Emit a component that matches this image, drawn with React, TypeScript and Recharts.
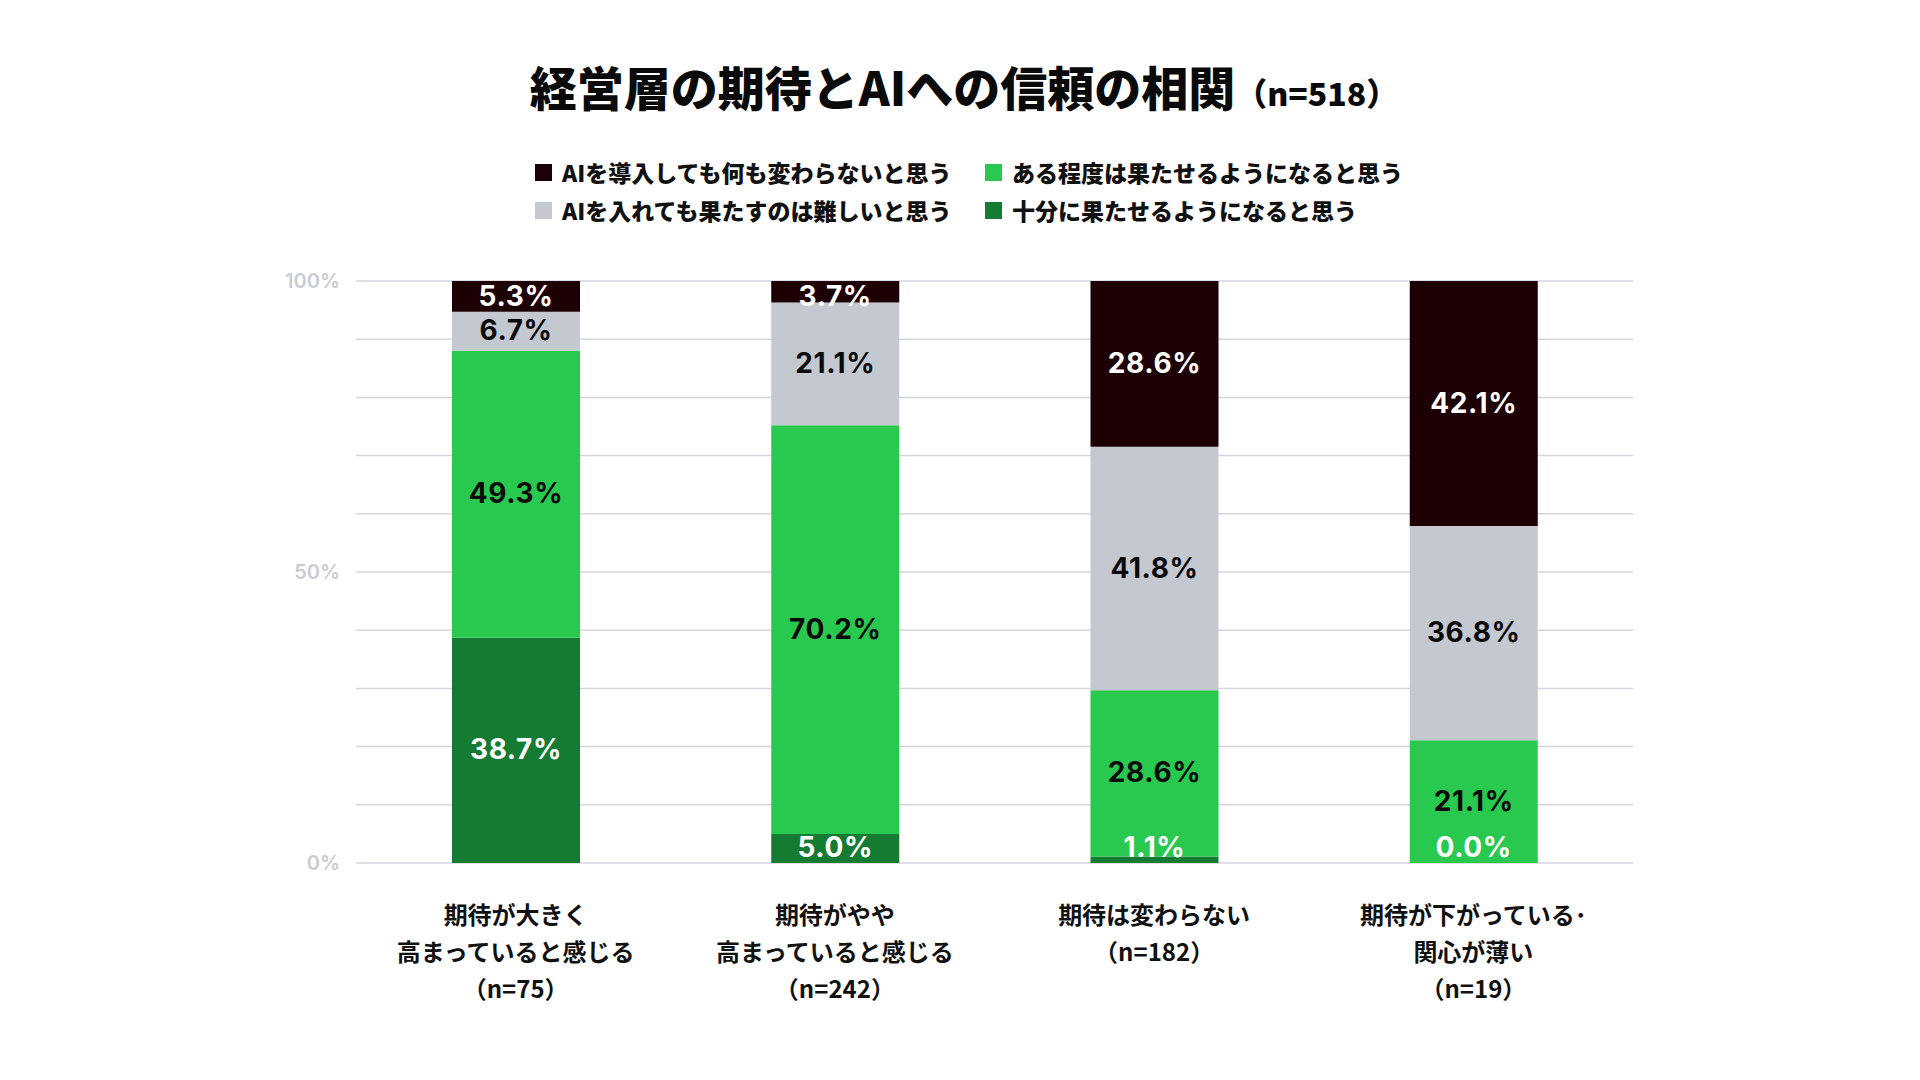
import React from 'react';
import { BarChart, Bar, XAxis, YAxis, CartesianGrid, Legend, LabelList } from 'recharts';

// ---- data ----
const CATEGORIES = [
  '期待が大きく\n高まっていると感じる\n（n=75）',
  '期待がやや\n高まっていると感じる\n（n=242）',
  '期待は変わらない\n（n=182）',
  '期待が下がっている･\n関心が薄い\n（n=19）',
];
// AIを導入しても何も変わらないと思う
const SERIES_NOTHING = [5.3, 3.7, 28.6, 42.1];
// AIを入れても果たすのは難しいと思う
const SERIES_HARD = [6.7, 21.1, 41.8, 36.8];
// ある程度は果たせるようになると思う
const SERIES_SOME = [49.3, 70.2, 28.6, 21.1];
// 十分に果たせるようになると思う
const SERIES_FULL = [38.7, 5.0, 1.1, 0.0];

const Y_TICKS = [0, 10, 20, 30, 40, 50, 60, 70, 80, 90, 100];
const Y_TICK_LABELS: Record<number, string> = { 0: '0%', 50: '50%', 100: '100%' };

const TITLE_MAIN = '経営層の期待とAIへの信頼の相関';
const TITLE_SUB = '（n=518）';

// ---- series config (stack order bottom -> top) ----
const SERIES = [
  { key: 'full', name: '十分に果たせるようになると思う', color: '#167b32', labelColor: '#ffffff', values: SERIES_FULL },
  { key: 'some', name: 'ある程度は果たせるようになると思う', color: '#29c94f', labelColor: '#0a0a0a', values: SERIES_SOME },
  { key: 'hard', name: 'AIを入れても果たすのは難しいと思う', color: '#c4c8d0', labelColor: '#0a0a0a', values: SERIES_HARD },
  { key: 'nothing', name: 'AIを導入しても何も変わらないと思う', color: '#1c0004', labelColor: '#ffffff', values: SERIES_NOTHING },
];
const LEGEND_ORDER = ['nothing', 'hard', 'some', 'full'];

const data = CATEGORIES.map((category, i) => {
  const row: Record<string, any> = { category };
  SERIES.forEach((s) => {
    row[s.key] = s.values[i];
  });
  return row;
});

// ---- layout ----
const WIDTH = 1920;
const HEIGHT = 1080;
const MARGIN = { top: 281, right: 287, bottom: 0, left: 0 };
const Y_AXIS_WIDTH = 356;
const X_AXIS_HEIGHT = 217;
const PLOT_TOP = MARGIN.top;
const PLOT_BOTTOM = HEIGHT - MARGIN.bottom - X_AXIS_HEIGHT;

const JP_FONT = '"Noto Sans CJK JP", "Noto Sans", sans-serif';
const NUM_FONT = 'Inter, "Noto Sans", sans-serif';

const makeLabel = (color: string) => (props: any) => {
  const { x, y, width, height, value } = props;
  if (value === null || value === undefined) return null;
  const cx = Number(x) + Number(width) / 2;
  let cy = Number(y) + Number(height) / 2;
  cy = Math.max(PLOT_TOP + 16, Math.min(PLOT_BOTTOM - 15, cy));
  return (
    <text
      x={cx}
      y={cy + 9}
      fill={color}
      textAnchor="middle"
      fontFamily={NUM_FONT}
      fontWeight={700}
      fontSize={28}
      letterSpacing={0.6}
    >
      {Number(value).toFixed(1)}%
    </text>
  );
};

const XTick = (props: any) => {
  const { x, y, payload } = props;
  const lines = String(payload.value).split('\n');
  return (
    <text
      x={x}
      y={y}
      textAnchor="middle"
      fontFamily={JP_FONT}
      fontWeight={700}
      fontSize={24}
      fill="#111111"
    >
      {lines.map((l, i) => (
        <tspan key={i} x={x} y={Number(y) + 61 + i * 37}>
          {l}
        </tspan>
      ))}
    </text>
  );
};

const renderLegend = (props: any) => {
  const payload: any[] = props.payload || [];
  const byKey: Record<string, any> = {};
  payload.forEach((p) => {
    byKey[String(p.dataKey)] = p;
  });
  const items = LEGEND_ORDER.map((k) => byKey[k]).filter(Boolean);
  return (
    <div
      style={{
        display: 'grid',
        gridTemplateColumns: '450px auto',
        gridTemplateRows: '38px 38px',
        gridAutoFlow: 'column',
      }}
    >
      {items.map((p) => (
        <div
          key={String(p.dataKey)}
          style={{
            display: 'flex',
            alignItems: 'center',
            height: 38,
            whiteSpace: 'nowrap',
          }}
        >
          <span
            style={{
              display: 'inline-block',
              width: 17,
              height: 17,
              background: p.color,
              marginRight: 10,
            }}
          />
          <span
            style={{
              fontFamily: JP_FONT,
              fontWeight: 800,
              fontSize: 23,
              color: '#111111',
              lineHeight: '38px',
            }}
          >
            {p.value}
          </span>
        </div>
      ))}
    </div>
  );
};

export default function App() {
  return (
    <div
      style={{
        position: 'absolute',
        left: 0,
        top: 0,
        width: WIDTH,
        height: HEIGHT,
        background: '#ffffff',
        overflow: 'hidden',
      }}
    >
      <div
        style={{
          position: 'absolute',
          left: 4,
          top: 56,
          width: WIDTH,
          textAlign: 'center',
          fontFamily: JP_FONT,
          fontWeight: 900,
          color: '#0a0a0a',
          lineHeight: '60px',
          whiteSpace: 'nowrap',
        }}
      >
        <span style={{ fontSize: 47 }}>{TITLE_MAIN}</span>
        <span style={{ fontSize: 32 }}>{TITLE_SUB}</span>
      </div>
      <div style={{ position: 'absolute', left: 0, top: 0 }}>
        <BarChart width={WIDTH} height={HEIGHT} data={data} margin={MARGIN}>
          <CartesianGrid vertical={false} stroke="#d3d6dc" strokeWidth={1.5} />
          <XAxis
            dataKey="category"
            height={X_AXIS_HEIGHT}
            axisLine={false}
            tickLine={false}
            tickSize={0}
            tickMargin={0}
            interval={0}
            tick={<XTick />}
          />
          <YAxis
            width={Y_AXIS_WIDTH}
            domain={[0, 100]}
            ticks={Y_TICKS}
            allowDataOverflow
            axisLine={false}
            tickLine={false}
            tickSize={0}
            tickMargin={16}
            interval={0}
            tickFormatter={(v: number) => Y_TICK_LABELS[v] ?? ''}
            tick={{ fill: '#c9ccd3', fontFamily: NUM_FONT, fontWeight: 600, fontSize: 20 }}
          />
          <Legend
            layout="horizontal"
            verticalAlign="middle"
            align="center"
            content={renderLegend}
            wrapperStyle={{ top: 153, left: 535, width: 900, height: 76 }}
          />
          {SERIES.map((s) => (
            <Bar
              key={s.key}
              dataKey={s.key}
              name={s.name}
              stackId="a"
              fill={s.color}
              barSize={128}
              minPointSize={0.01}
              isAnimationActive={false}
            >
              <LabelList dataKey={s.key} content={makeLabel(s.labelColor)} />
            </Bar>
          ))}
        </BarChart>
      </div>
    </div>
  );
}
